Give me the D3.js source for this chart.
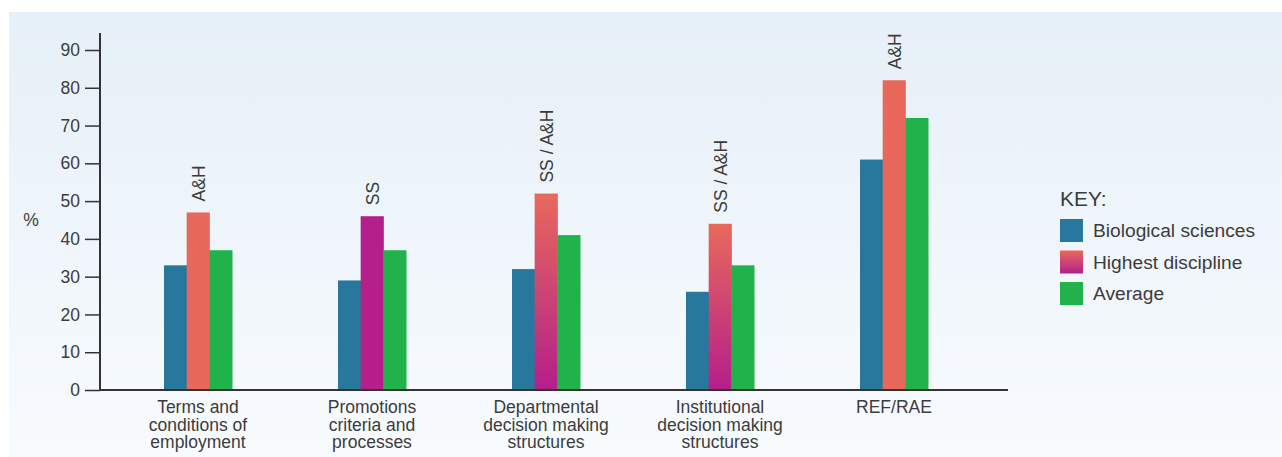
<!DOCTYPE html>
<html>
<head>
<meta charset="utf-8">
<script src="https://cdn.jsdelivr.net/npm/d3@7"></script>
<style>
  html, body { margin: 0; padding: 0; background: #ffffff; }
  svg { display: block; }
  text { font-family: "Liberation Sans", Arial, Helvetica, sans-serif; fill: #3c3c3c; }
</style>
</head>
<body>
<svg id="chart" width="1282" height="457"></svg>
<script>
// Areas of activity (each label split into its printed lines)
const categories = [
  ["Terms and", "conditions of", "employment"],
  ["Promotions", "criteria and", "processes"],
  ["Departmental", "decision making", "structures"],
  ["Institutional", "decision making", "structures"],
  ["REF/RAE"]
];
const biologicalSciences = [33, 29, 32, 26, 61];
const highestDiscipline = [47, 46, 52, 44, 82];
const average = [37, 37, 41, 33, 72];
const highestLabels = ["A&H", "SS", "SS / A&H", "SS / A&H", "A&H"];
const yTicks = [0, 10, 20, 30, 40, 50, 60, 70, 80, 90];
const seriesNames = ["Biological sciences", "Highest discipline", "Average"];

const colors = {
  bio: "#28779c",
  ah: "#e8695b",
  ss: "#b41f8b",
  avg: "#22b24c"
};

const svg = d3.select("#chart");
const defs = svg.append("defs");

// Panel background gradient
const bg = defs.append("linearGradient").attr("id", "panelBg")
  .attr("x1", 0).attr("y1", 0).attr("x2", 0).attr("y2", 1);
bg.append("stop").attr("offset", "0%").attr("stop-color", "#e6f0f8");
bg.append("stop").attr("offset", "100%").attr("stop-color", "#f8fbfe");

// Salmon-to-magenta blend for shared SS / A&H results
const blend = defs.append("linearGradient").attr("id", "blend")
  .attr("x1", 0).attr("y1", 0).attr("x2", 0).attr("y2", 1);
blend.append("stop").attr("offset", "0%").attr("stop-color", colors.ah);
blend.append("stop").attr("offset", "100%").attr("stop-color", colors.ss);

svg.append("rect").attr("x", 9).attr("y", 12).attr("width", 1282 - 9).attr("height", 457 - 12)
  .attr("fill", "url(#panelBg)");

const x0 = 100, x1 = 1008, yTopValue = 94.5;
const y = d3.scaleLinear().domain([0, 90]).range([390, 50]);

const xGroup = d3.scaleBand().domain(d3.range(categories.length)).range([111, 981]).padding(0);
const xSeries = d3.scaleBand().domain([0, 1, 2]).range([0, 68]).padding(0);
const groupLeft = i => xGroup(i) + xGroup.bandwidth() / 2 - 34;

function highestFill(label) {
  if (label === "SS") return colors.ss;
  if (label === "A&H") return colors.ah;
  return "url(#blend)";
}

// Bars
const groups = svg.append("g").selectAll("g").data(categories).join("g")
  .attr("transform", (d, i) => `translate(${groupLeft(i)},0)`);

groups.each(function(d, i) {
  const g = d3.select(this);
  const vals = [
    { v: biologicalSciences[i], fill: colors.bio },
    { v: highestDiscipline[i], fill: highestFill(highestLabels[i]) },
    { v: average[i], fill: colors.avg }
  ];
  g.selectAll("rect").data(vals).join("rect")
    .attr("x", (v, j) => xSeries(j))
    .attr("width", xSeries.bandwidth() + 0.5)
    .attr("y", v => y(v.v))
    .attr("height", v => y(0) - y(v.v))
    .attr("fill", v => v.fill);

  // Rotated discipline label above the highest bar
  const cx = xSeries(1) + xSeries.bandwidth() / 2;
  g.append("text")
    .attr("transform", `translate(${cx + 6.5},${y(highestDiscipline[i]) - 11}) rotate(-90)`)
    .attr("text-anchor", "start")
    .style("font-size", "17.5px")
    .text(highestLabels[i]);
});

// Y axis
const yAxis = d3.axisLeft(y).tickValues(yTicks).tickSize(15).tickPadding(5).tickSizeOuter(0);
const ya = svg.append("g").attr("transform", `translate(${x0},0)`).call(yAxis);
ya.select(".domain").remove();
ya.selectAll(".tick line").attr("stroke", "#333").attr("stroke-width", 1.5);
ya.selectAll(".tick text").style("font-size", "17.5px").attr("fill", "#3c3c3c")
  .style("font-family", "'Liberation Sans', Arial, sans-serif");
svg.append("line").attr("x1", x0).attr("x2", x0).attr("y1", y(0)).attr("y2", y(yTopValue))
  .attr("stroke", "#333").attr("stroke-width", 2);

// X axis baseline
svg.append("line").attr("x1", x0 - 1).attr("x2", x1).attr("y1", y(0)).attr("y2", y(0))
  .attr("stroke", "#333").attr("stroke-width", 2);

// Category labels
svg.append("g").selectAll("text").data(categories).join("text")
  .attr("text-anchor", "middle")
  .attr("x", (d, i) => xGroup(i) + xGroup.bandwidth() / 2)
  .attr("y", 413)
  .style("font-size", "17.5px")
  .each(function(lines) {
    const t = d3.select(this);
    const cx = t.attr("x");
    lines.forEach((line, k) => {
      t.append("tspan").attr("x", cx).attr("dy", k === 0 ? 0 : 17.6).text(line);
    });
  });

// Y unit label
svg.append("text").attr("x", 31).attr("y", 226).attr("text-anchor", "middle")
  .style("font-size", "17.5px").text("%");

// Legend
const legend = svg.append("g").attr("transform", "translate(1060,0)");
legend.append("text").attr("x", 0).attr("y", 206).style("font-size", "21px").attr("fill", "#222").text("KEY:");
const legendFills = [colors.bio, "url(#legendBlend)", colors.avg];
const lb = defs.append("linearGradient").attr("id", "legendBlend")
  .attr("x1", 0).attr("y1", 0).attr("x2", 0).attr("y2", 1);
lb.append("stop").attr("offset", "0%").attr("stop-color", colors.ah);
lb.append("stop").attr("offset", "100%").attr("stop-color", colors.ss);
const items = legend.selectAll("g.item").data(seriesNames).join("g").attr("class", "item")
  .attr("transform", (d, i) => `translate(0,${219 + i * 31.5})`);
items.append("rect").attr("width", 23).attr("height", 23).attr("fill", (d, i) => legendFills[i]);
items.append("text").attr("x", 33).attr("y", 18).style("font-size", "19.2px").text(d => d);
</script>
</body>
</html>
